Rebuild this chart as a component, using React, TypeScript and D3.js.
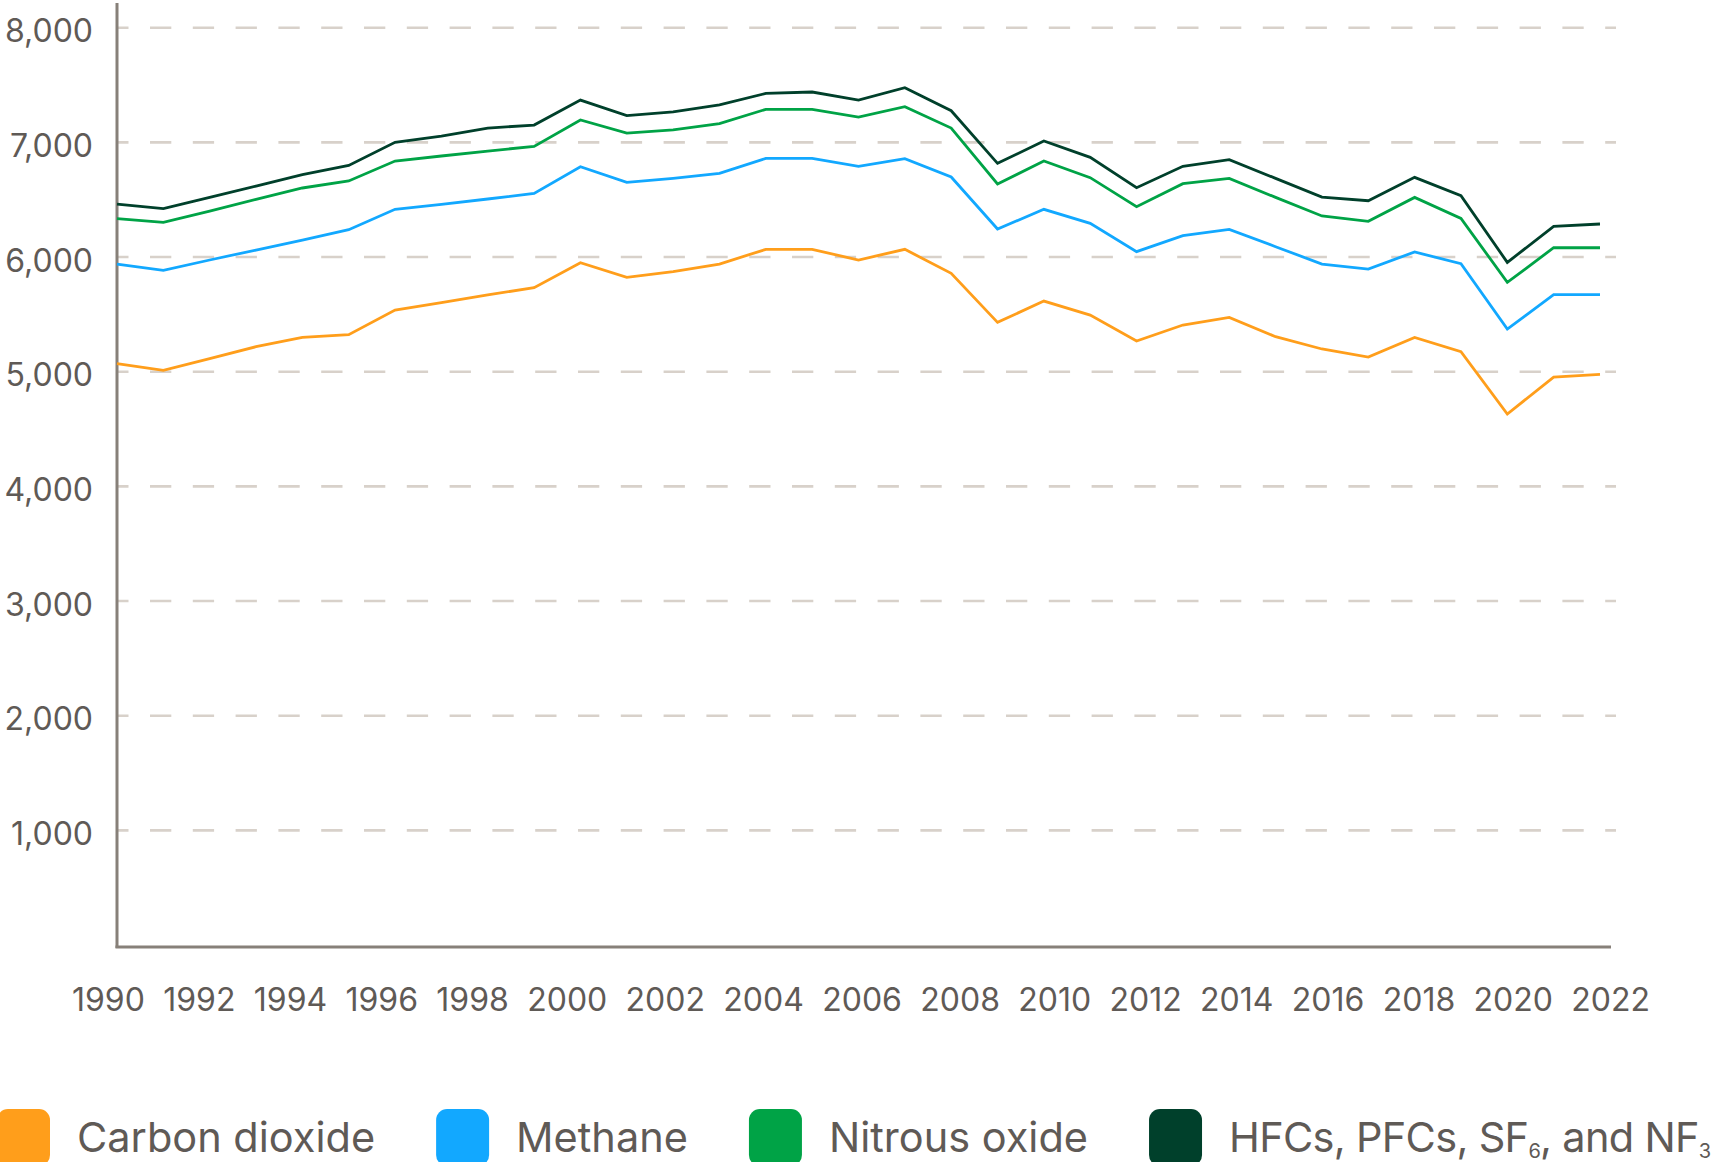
import { useLayoutEffect, useRef, useState } from 'react';
import * as d3 from 'd3';

const years = [
  1990, 1991, 1992, 1993, 1994, 1995, 1996, 1997, 1998, 1999, 2000, 2001, 2002, 2003, 2004, 2005, 2006,
  2007, 2008, 2009, 2010, 2011, 2012, 2013, 2014, 2015, 2016, 2017, 2018, 2019, 2020, 2021, 2022,
];

// emissions by gas (stacked in the chart)
const carbonDioxide = [
  5070, 5012, 5113, 5218, 5300, 5323, 5538, 5602, 5669, 5733, 5951, 5823, 5872, 5939, 6067, 6067, 5974,
  6067, 5858, 5430, 5616, 5494, 5267, 5407, 5474, 5305, 5198, 5128, 5299, 5174, 4631, 4953, 4977,
];
const methane = [
  869, 872, 861, 843, 848, 915, 878, 857, 837, 822, 837, 828, 814, 791, 793, 793, 817,
  791, 840, 814, 800, 800, 780, 779, 767, 785, 741, 767, 745, 768, 741, 719, 695,
];
const nitrousOxide = [
  395, 418, 427, 442, 454, 425, 421, 422, 418, 410, 407, 430, 422, 433, 428, 428, 430,
  453, 427, 393, 421, 398, 392, 454, 445, 430, 419, 416, 476, 395, 407, 409, 409,
];
const fluorinated = [
  128, 120, 119, 116, 116, 136, 163, 174, 201, 186, 174, 152, 157, 163, 139, 151, 148,
  166, 151, 180, 175, 177, 166, 151, 163, 166, 165, 180, 175, 198, 174, 186, 207,
];

const seriesKeys = ['co2', 'ch4', 'n2o', 'fgas'];
const seriesColors = ['#FF9E1B', '#12A8FF', '#00A346', '#00402B'];
const yTicks = [1000, 2000, 3000, 4000, 5000, 6000, 7000, 8000];
const xTickLabels = [
  '1990', '1992', '1994', '1996', '1998', '2000', '2002', '2004', '2006',
  '2008', '2010', '2012', '2014', '2016', '2018', '2020', '2022',
];

const width = 1732;
const height = 1162;
const textColor = '#5f5a56';
const axisColor = '#878079';
const gridColor = '#d8d1ca';
const font = "Inter, Lato, sans-serif";

const labelLeft = 72;
const labelRight = 1650;
const legendTop = 1109;
const swatch = 53;

export default function App() {
  const xLabelRefs = useRef<(SVGTextElement | null)[]>([]);
  const legendRefs = useRef<(SVGTextElement | null)[]>([]);
  const [xLabelPos, setXLabelPos] = useState<number[] | null>(null);
  const [legendPos, setLegendPos] = useState<number[] | null>(null);

  const x = d3.scaleLinear().domain([1990, 2022]).range([117, 1600]);
  const y = d3.scaleLinear().domain([0, 8000]).range([945, 27.7]);
  const labelPoint = d3.scalePoint().domain(xTickLabels).range([labelLeft, labelRight - 70]);

  const table = years.map((year, i) => ({
    year,
    co2: carbonDioxide[i],
    ch4: methane[i],
    n2o: nitrousOxide[i],
    fgas: fluorinated[i],
  }));
  const stacked = d3.stack<any>().keys(seriesKeys)(table);

  const line = d3
    .line<any>()
    .x((d) => x(d.data.year))
    .y((d) => y(d[1]));

  useLayoutEffect(() => {
    const measure = () => {
      // x labels sit in a row with an even gap between them
      const widths = xLabelRefs.current.map((el) => (el ? el.getComputedTextLength() : 0));
      const gap = (labelRight - labelLeft - d3.sum(widths)) / (widths.length - 1);
      let cursor = labelLeft;
      setXLabelPos(
        widths.map((w) => {
          const p = cursor;
          cursor += w + gap;
          return p;
        })
      );

      const lw = legendRefs.current.map((el) => (el ? el.getBBox().width : 0));
      let lx = -3;
      setLegendPos(
        lw.map((w) => {
          const p = lx;
          lx += swatch + 27 + w + 61;
          return p;
        })
      );
    };
    measure();
    if (document.fonts) document.fonts.ready.then(measure);
  }, []);

  const legendLabels = [
    <>Carbon dioxide</>,
    <>Methane</>,
    <>Nitrous oxide</>,
    <>
      HFCs, PFCs, SF
      <tspan fontSize={20} dy={6}>6</tspan>
      <tspan dy={-6}>, and NF</tspan>
      <tspan fontSize={20} dy={6}>3</tspan>
    </>,
  ];

  return (
    <svg
      width={width}
      height={height}
      style={{ position: 'absolute', left: 0, top: 0, background: '#fff' }}
      fontFamily={font}
    >
      {/* grid */}
      {yTicks.map((t) => (
        <line
          key={t}
          x1={x(1990)}
          x2={1616}
          y1={y(t)}
          y2={y(t)}
          stroke={gridColor}
          strokeWidth={2.6}
          strokeDasharray="21.3 21.5"
          strokeDashoffset={9.8}
        />
      ))}

      {/* axes */}
      <line x1={117} x2={117} y1={3} y2={948} stroke={axisColor} strokeWidth={3} />
      <line x1={115.5} x2={1611} y1={947} y2={947} stroke={axisColor} strokeWidth={3} />

      {yTicks.map((t) => (
        <text
          key={t}
          x={93}
          y={y(t) + 14.5}
          textAnchor="end"
          fill={textColor}
          fontSize={32}
        >
          {d3.format(',')(t)}
        </text>
      ))}

      {xTickLabels.map((label, i) => (
        <text
          key={label}
          ref={(el) => {
            xLabelRefs.current[i] = el;
          }}
          x={xLabelPos ? xLabelPos[i] : labelPoint(label)}
          y={1011}
          fill={textColor}
          fontSize={32}
        >
          {label}
        </text>
      ))}

      {/* series */}
      {stacked.map((s, i) => (
        <path
          key={s.key}
          d={line(s) ?? ''}
          fill="none"
          stroke={seriesColors[i]}
          strokeWidth={2.8}
          strokeLinejoin="miter"
        />
      ))}

      {/* legend */}
      {legendLabels.map((label, i) => {
        const lx = legendPos ? legendPos[i] : -3 + i * 400;
        return (
          <g key={i}>
            <rect x={lx} y={legendTop} width={swatch} height={swatch + 4} rx={11} fill={seriesColors[i]} />
            <text
              ref={(el) => {
                legendRefs.current[i] = el;
              }}
              x={lx + swatch + 27}
              y={1152}
              fill={textColor}
              fontSize={41.5}
              letterSpacing={i === 3 ? -0.7 : 0}
            >
              {label}
            </text>
          </g>
        );
      })}
    </svg>
  );
}
